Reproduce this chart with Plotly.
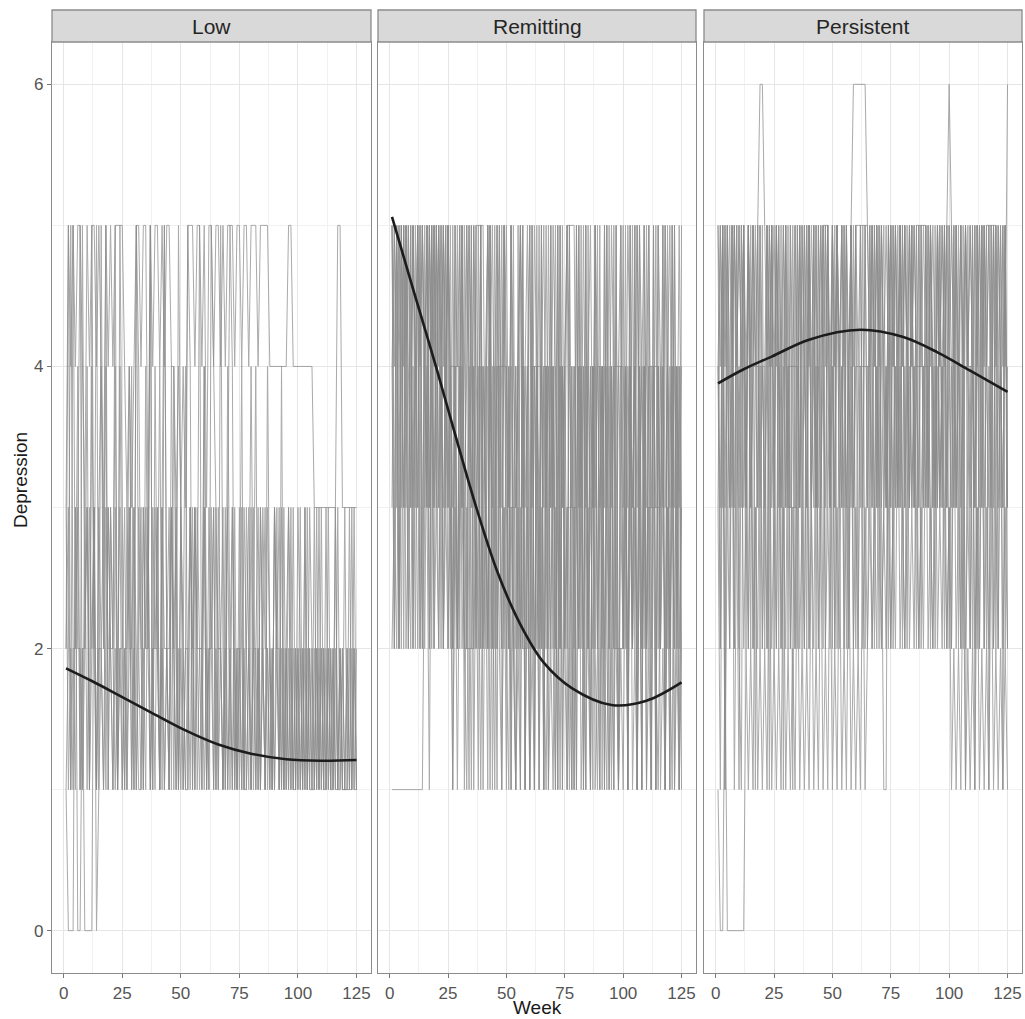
import plotly.graph_objects as go

# ---------------- data (read/estimated from the reference) ----------------
panels = ["Low", "Remitting", "Persistent"]

# individual weekly trajectories, one character per week (weeks 1..125)
low_subjects = [
    "35454 55435 45545 43545 45555 43434 55455 35455 45455 44343 43555 45545 35545 54545 55455 "
    "45545 55455 55444 44444 55444 44444 43333 33333 35533 33333",
    "10003 00200 00301 21232 12121 21312 12132 21213 12121 32121 21213 12121 21312 12121 21212 "
    "12121 31212 12121 21312 12112 12121 11212 11211 21121 11211",
    "25152 41523 14251 52413 25142 13241 52314 25132 41523 14213 24132 31224 13231 22314 21312 "
    "41231 24132 14213 21412 31213 21312 13121 21312 11213 12131",
    "31213 22131 32313 21322 13122 31223 13221 31322 13122 31312 12231 32213 12231 32123 13213 "
    "21321 22132 13213 23121 32121 31213 21312 13121 31211 21121",
    "12521 35124 15213 42513 24153 12421 54213 25142 13521 42153 12541 32514 21543 15213 54121 "
    "31124 21213 22121 31212 13121 21312 12131 21212 13121 21312",
    "23122 31223 12312 23132 21231 22313 21132 31223 13221 32313 21132 13223 12213 22131 23122 "
    "13213 12312 31213 22131 21312 12131 21213 12121 31211 13121",
]

remitting_subjects = [
    "11111 11111 11113 45453 54545 43545 34543 54353 45434 53454 35434 54345 35434 53435 43534 "
    "54343 53434 53543 43535 43453 43534 35434 53435 43543 53434",
    "54545 45435 45454 35454 54345 44444 53454 35555 35453 45345 33334 53453 44444 35343 53434 "
    "55553 43534 34344 34353 44444 35434 53453 33333 35345 34353",
    "52525 35252 45253 52425 35243 52524 35253 42524 35242 53524 25342 52435 24352 42534 25243 "
    "52425 34252 43524 25342 52435 24352 53425 24352 43524 35242",
    "42424 34243 42424 31434 24232 41323 42131 42313 24131 42132 14213 24131 42314 21324 13142 "
    "31413 24132 14213 42131 42132 41324 13142 31421 34132 41312",
    "35353 53535 43534 53535 34535 25352 52535 25352 42535 24253 25215 25142 51525 14252 15252 "
    "15215 25152 41525 15214 25152 41525 15241 52515 24152 15241",
    "45454 54545 35454 53545 45453 42424 32222 23424 32423 44444 23242 32223 24232 44424 23242 "
    "33333 23242 32423 42324 22222 32423 24232 44444 23242 32423",
    "53525 25352 53525 35253 52535 31313 51315 13151 31513 15131 41312 14131 21413 14121 31413 "
    "12131 41213 14121 31412 13121 31412 13141 21314 12131 41213",
    "23242 52324 25232 42523 24252 32425 23242 53242 32524 23252 41524 15241 51425 14152 41514 "
    "25141 52415 14251 41524 15142 51425 14152 41514 25141 52415",
]

persistent_subjects = [
    "10020 00000 00212 13121 21312 12131 21213 12121 31213 12131 21312 13121 21312 32343 23432 "
    "34343 23434 32343 43234 34323 12121 31212 13121 21312 12121",
    "45454 54545 45454 54566 54545 45454 35454 54545 45354 54545 45454 54566 66665 45454 54545 "
    "45454 54545 45454 54545 45456 54545 45454 54545 45454 54546",
    "35353 43534 35353 44444 34353 53435 33333 53435 35343 55534 35343 53534 44444 43535 34353 "
    "53435 34353 55555 35343 53534 35343 44444 35353 43535 34353",
    "42524 35242 53425 24352 42534 25243 52425 34252 43524 25342 52435 24352 43524 35242 53425 "
    "24352 42534 25243 52425 34252 43524 25342 52435 24352 43524",
    "31413 24131 42324 23242 32423 24232 42324 23242 32423 42324 23242 32423 24232 42324 23242 "
    "32423 24232 42324 23242 32423 24232 42324 23242 32423 24232",
    "54545 34545 45354 54534 45454 54345 44444 35454 54345 45435 45454 34545 55555 45454 54345 "
    "45354 54545 44444 45435 45454 54345 45454 35454 55555 45453",
    "43535 45353 54353 45354 35453 54353 43535 35435 34535 43535 35435 34535 45353 54353 45354 "
    "35453 54353 43535 35435 34535 43535 35435 34535 45353 54353",
    "52515 25252 15252 51525 25152 52515 25152 52525 35253 52535 25352 52525 25353 53535 31153 "
    "53535 35353 53535 35353 53535 25352 51525 15252 51525 25152",
]

# fitted mean trajectories
fit_weeks_low = [1, 12, 24, 37, 52, 66, 80, 95, 110, 125]
fit_low = [1.86, 1.77, 1.665, 1.55, 1.42, 1.32, 1.255, 1.215, 1.205, 1.21]

fit_weeks_rem = [1, 10, 20, 28, 36, 46, 56, 66, 78, 95, 110, 125]
fit_rem = [5.06, 4.55, 3.99, 3.52, 3.06, 2.55, 2.17, 1.90, 1.72, 1.60, 1.63, 1.76]

fit_weeks_per = [1, 12, 24, 40, 62, 80, 95, 109, 125]
fit_per = [3.88, 3.98, 4.07, 4.19, 4.26, 4.21, 4.10, 3.97, 3.82]

x_ticks = [0, 25, 50, 75, 100, 125]
y_ticks = [0, 2, 4, 6]

# ---------------- figure ----------------
W, H = 1025, 1019
ML, MR, MT, MB = 52, 3, 10, 46
pw = W - ML - MR
ph = H - MT - MB

def px_x(p):
    return (p - ML) / pw

def px_y(p):
    return (H - MB - p) / ph

domains = [(px_x(52), px_x(371)), (px_x(378), px_x(696)), (px_x(704), px_x(1022))]
y_top = px_y(42)

groups = [
    (low_subjects, fit_weeks_low, fit_low),
    (remitting_subjects, fit_weeks_rem, fit_rem),
    (persistent_subjects, fit_weeks_per, fit_per),
]

def parse(s):
    return [int(c) for c in s.replace(" ", "")]

fig = go.Figure()
axis_ids = [("x", "y"), ("x2", "y2"), ("x3", "y3")]
for i, (subs, fw, fv) in enumerate(groups):
    xa, ya = axis_ids[i]
    for s in subs:
        vals = parse(s)[:125]
        weeks = list(range(1, len(vals) + 1))
        fig.add_trace(go.Scatter(
            x=weeks, y=vals, mode="lines",
            line=dict(color="rgb(138,138,138)", width=1),
            opacity=0.72,
            xaxis=xa, yaxis=ya, hoverinfo="skip", showlegend=False))
    fig.add_trace(go.Scatter(
        x=fw, y=fv, mode="lines",
        line=dict(color="#1c1c1c", width=2.6, shape="spline", smoothing=1.0),
        xaxis=xa, yaxis=ya, hoverinfo="skip", showlegend=False))

font_family = "Liberation Sans, Arial, Helvetica, sans-serif"
grid_major = "#e6e6e6"
grid_minor = "#f1f1f1"
border = "#8c8c8c"

layout = dict(
    width=W, height=H,
    margin=dict(l=ML, r=MR, t=MT, b=MB, autoexpand=False),
    paper_bgcolor="white", plot_bgcolor="white",
    font=dict(family=font_family, color="#4d4d4d"),
    showlegend=False,
)

for i in range(3):
    xk = "xaxis" if i == 0 else f"xaxis{i+1}"
    yk = "yaxis" if i == 0 else f"yaxis{i+1}"
    layout[xk] = dict(
        domain=list(domains[i]), anchor="y" if i == 0 else f"y{i+1}",
        range=[-5.0, 131.2], tickmode="array", tickvals=x_ticks,
        ticktext=[str(v) for v in x_ticks],
        showgrid=True, gridcolor=grid_major, gridwidth=1,
        minor=dict(tickmode="array", tickvals=[12.5, 37.5, 62.5, 87.5, 112.5],
                   showgrid=True, gridcolor=grid_minor, gridwidth=0.6),
        zeroline=False, showline=True, mirror=True, linecolor=border, linewidth=1.3,
        ticks="outside", ticklen=4, tickcolor="#777777", tickwidth=1,
        tickfont=dict(size=17, color="#555555", family=font_family),
        fixedrange=True, automargin=False,
    )
    layout[yk] = dict(
        domain=[0, y_top], anchor="x" if i == 0 else f"x{i+1}",
        range=[-0.3, 6.3], tickmode="array", tickvals=y_ticks,
        ticktext=[str(v) for v in y_ticks],
        showticklabels=(i == 0),
        showgrid=True, gridcolor=grid_major, gridwidth=1,
        minor=dict(tickmode="array", tickvals=[1, 3, 5],
                   showgrid=True, gridcolor=grid_minor, gridwidth=0.6),
        zeroline=False, showline=True, mirror=True, linecolor=border, linewidth=1.3,
        ticks="outside" if i == 0 else "", ticklen=4, tickcolor="#777777", tickwidth=1,
        tickfont=dict(size=17, color="#555555", family=font_family),
        fixedrange=True, automargin=False,
    )

shapes = []
annotations = []
for i, name in enumerate(panels):
    x0, x1 = domains[i]
    shapes.append(dict(type="rect", xref="paper", yref="paper",
                       x0=x0, x1=x1, y0=y_top, y1=1.0,
                       fillcolor="#d9d9d9", line=dict(color=border, width=1.3),
                       layer="above"))
    annotations.append(dict(text=name, xref="paper", yref="paper",
                            x=(x0 + x1) / 2, y=(y_top + 1.0) / 2,
                            showarrow=False, xanchor="center", yanchor="middle",
                            font=dict(size=21, color="#262626", family=font_family)))

annotations.append(dict(text="Week", xref="paper", yref="paper",
                        x=px_x(537), y=px_y(1007), showarrow=False,
                        xanchor="center", yanchor="middle",
                        font=dict(size=19, color="#1a1a1a", family=font_family)))
annotations.append(dict(text="Depression", xref="paper", yref="paper",
                        x=px_x(20), y=px_y(480), showarrow=False, textangle=-90,
                        xanchor="center", yanchor="middle",
                        font=dict(size=19, color="#1a1a1a", family=font_family)))

layout["shapes"] = shapes
layout["annotations"] = annotations
fig.update_layout(**layout)

fig.write_html("out.html", config={"displayModeBar": False},
               post_script="document.body.style.margin='0px';")
